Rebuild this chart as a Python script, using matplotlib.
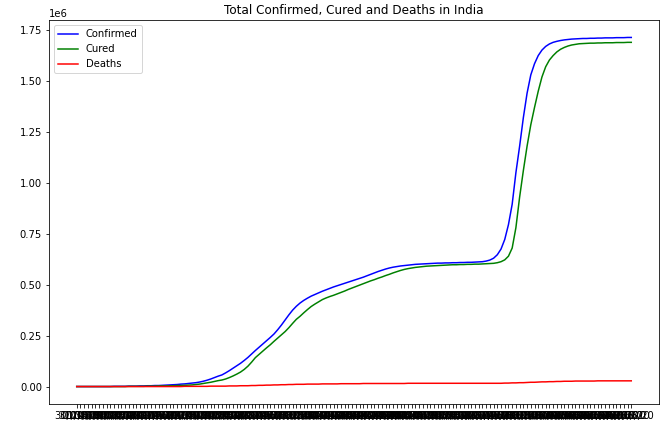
import matplotlib
matplotlib.use("Agg")
import matplotlib.pyplot as plt
import pandas as pd

# Values in thousands
confirmed_k = [
    0, 0, 0, 0, 0, 0, 0, 0, 0, 0, 1, 1,
    1, 1, 2, 2, 2, 3, 3, 4,
    4, 5, 5, 6, 7, 8, 9, 10, 12, 13,
    15, 17, 19, 22, 26, 31, 37, 44, 51,
    57, 67, 78, 90, 102, 114, 128, 143, 160, 177,
    193, 209, 225, 241, 258, 279, 302, 327, 352, 375,
    394, 410, 423, 434, 444, 452, 460, 468, 475, 482,
    489, 495, 501, 507, 513, 519, 525, 531, 537, 544,
    551, 558, 565, 571, 577, 582, 586, 589, 592, 594,
    596, 598, 600, 601, 602, 603, 604, 605, 606, 606,
    607, 607, 608, 608, 609, 609, 610, 610, 611, 612,
    613, 616, 621, 630, 647, 675, 722, 795, 895, 1050,
    1180, 1320, 1440, 1530, 1585, 1625, 1652, 1670, 1682, 1690,
    1695, 1699, 1702, 1704, 1706, 1707, 1708, 1709, 1709, 1710,
    1710, 1711, 1711, 1712, 1712, 1712, 1713, 1713, 1713, 1714, 1714,
]
cured_k = [
    0, 0, 0, 0, 0, 0, 0, 0, 0, 0, 0, 0, 0, 0, 1, 1, 1, 1, 1, 2,
    2, 2, 3, 3, 3, 4, 4, 5, 5, 6,
    7, 8, 10, 12, 15, 18, 21, 25, 29,
    32, 37, 44, 52, 61, 71, 84, 100, 120, 142,
    158, 174, 190, 205, 222, 238, 254, 270, 289, 310,
    330, 345, 362, 378, 393, 405, 416, 427, 435, 442,
    448, 455, 462, 469, 477, 484, 491, 498, 505, 512,
    519, 525, 532, 538, 545, 551, 558, 564, 570, 575,
    579, 582, 585, 587, 589, 591, 592, 593, 594, 595,
    596, 597, 598, 598, 599, 599, 600, 600, 601, 601,
    602, 603, 604, 605, 608, 613, 622, 640, 680, 780,
    930, 1060, 1180, 1285, 1370, 1450, 1520, 1570, 1603, 1625,
    1643, 1656, 1665, 1672, 1677, 1680, 1683, 1684, 1685, 1686,
    1686, 1687, 1687, 1688, 1688, 1688, 1689, 1689, 1689, 1690, 1690,
]
deaths_k = [
    0, 0, 0, 0, 0, 0, 0, 0, 0, 0, 0, 0, 0, 0, 0, 0, 0, 0, 0, 0,
    0, 0, 0, 0, 0, 0, 0, 0, 0, 1,
    1, 1, 1, 1, 1, 1, 2, 2, 2, 2,
    2, 3, 3, 3, 4, 4, 4, 5, 5, 6,
    6, 7, 7, 8, 8, 9, 9, 10, 10, 11,
    11, 11, 12, 12, 12, 12, 13, 13, 13, 13,
    13, 14, 14, 14, 14, 14, 14, 15, 15, 15,
    15, 15, 15, 15, 15, 15, 15, 15, 15, 16,
    16, 16, 16, 16, 16, 16, 16, 16, 16, 16,
    16, 16, 16, 16, 16, 16, 16, 16, 16, 16,
    16, 16, 16, 16, 16, 17, 17, 18, 18, 19,
    19, 20, 21, 21, 22, 23, 23, 24, 24, 25,
    25, 26, 26, 26, 27, 27, 27, 27, 27, 27,
    28, 28, 28, 28, 28, 28, 28, 28, 28, 28,
]

n = min(len(confirmed_k), len(cured_k), len(deaths_k))
confirmed = [v * 1000 for v in confirmed_k[:n]]
cured = [v * 1000 for v in cured_k[:n]]
deaths = [v * 1000 for v in deaths_k[:n]]
dates = list(pd.date_range("2020-01-30", periods=n, freq="D").strftime("%d/%m/%y"))

fig = plt.figure(figsize=(664 / 72, 427 / 72), dpi=72)
ax = fig.add_axes([49 / 664, 1 - 404 / 427, 610 / 664, 384 / 427])
ax.plot(dates, confirmed, color="blue", label="Confirmed")
ax.plot(dates, cured, color="green", label="Cured")
ax.plot(dates, deaths, color="red", label="Deaths")
ax.set_title("Total Confirmed, Cured and Deaths in India")
ax.legend(loc="upper left")
fig.savefig("out.png", dpi=72)
